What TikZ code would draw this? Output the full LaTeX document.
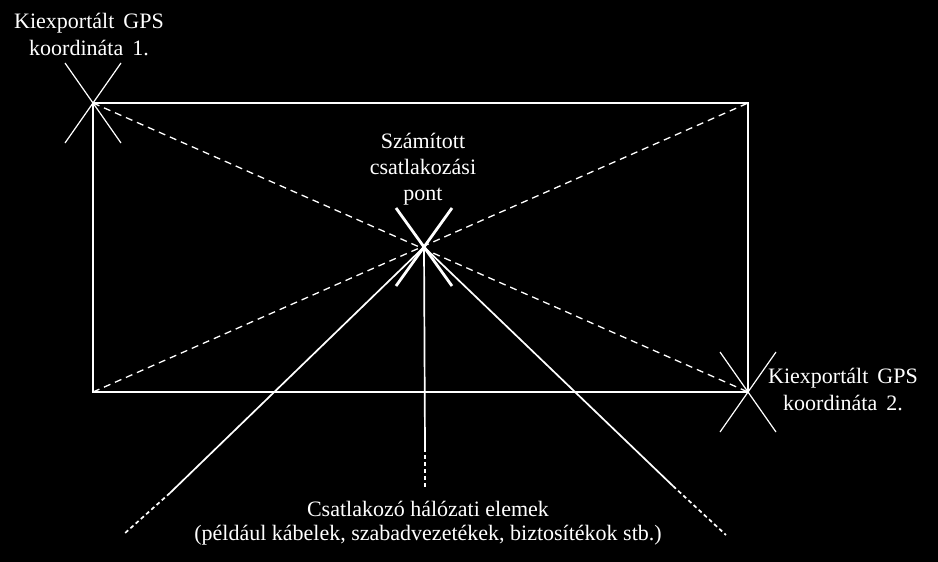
\documentclass[tikz,border=0pt]{standalone}
\usepackage{fontspec}
\setmainfont{Liberation Serif}
\usepackage{tikz}
\newcommand\gpsfont{\fontsize{22}{26.5}\selectfont\spaceskip=9pt\relax}

\begin{document}
\begin{tikzpicture}
	[x=1pt, y=-1pt, inner sep=0pt, white,
	frame/.style	= {draw, white, line width=2.8pt},
	diag/.style		= {draw, white, line width=1.3pt, dash pattern=on 7pt off 5pt},
	thincross/.style	= {draw, white, line width=1.2pt},
	thickcross/.style	= {draw, white, line width=2.8pt},
	wire/.style		= {draw, white, line width=1.7pt},
	wiredash/.style	= {draw, white, line width=1.7pt, dash pattern=on 4pt off 3pt},
	caption/.style	= {text=white, align=center, anchor=base, font=\fontsize{22}{26}\selectfont}]

	% background and page size
	\fill [black] (0,0) rectangle (938,562);
	\useasboundingbox (0,0) rectangle (938,562);

	% corners of the area
	\coordinate (c1) at (93,103);
	\coordinate (c2) at (748,392);
	\coordinate (tr) at (748,103);
	\coordinate (bl) at (93,392);
	\coordinate (pt) at (424,247);

	\draw [frame] (c1) rectangle (c2);
	\draw [diag] (c1) -- (c2);
	\draw [diag] (bl) -- (tr);

	% GPS points
	\foreach \c in {c1,c2} {
		\draw [thincross] ([shift={(-28,-40)}]\c) -- ([shift={(28,40)}]\c);
		\draw [thincross] ([shift={(28,-40)}]\c) -- ([shift={(-28,40)}]\c);
	}
	\draw [thickcross] ([shift={(-28,-39)}]pt) -- ([shift={(28,39)}]pt);
	\draw [thickcross] ([shift={(28,-39)}]pt) -- ([shift={(-28,39)}]pt);

	% network elements
	\coordinate (la) at (170,493);
	\coordinate (lb) at (124,534);
	\coordinate (ma) at (425,448);
	\coordinate (mb) at (425,487);
	\coordinate (ra) at (673,486);
	\coordinate (rb) at (726,535);

	\draw [wire] (pt) -- (la);
	\draw [wiredash] (la) -- (lb);
	\draw [wire] (pt) -- (ma);
	\draw [wiredash] (ma) -- (mb);
	\draw [wire] (pt) -- (ra);
	\draw [wiredash] (ra) -- (rb);

	% labels (anchored at the baseline of the last line)
	\node [caption, font=\gpsfont] (gps1) at (89,55)	{Kiexportált GPS\\koordináta 1.};
	\node [caption, font=\gpsfont] (gps2) at (843,410)	{Kiexportált GPS\\koordináta 2.};
	\node [caption] (calc) at (423,200)	{Számított\\csatlakozási\\pont};
	\node [caption, font=\fontsize{22}{23.5}\selectfont] (elem) at (428,540)
		{Csatlakozó hálózati elemek\\(például kábelek, szabadvezetékek, biztosítékok stb.)};
\end{tikzpicture}
\end{document}
